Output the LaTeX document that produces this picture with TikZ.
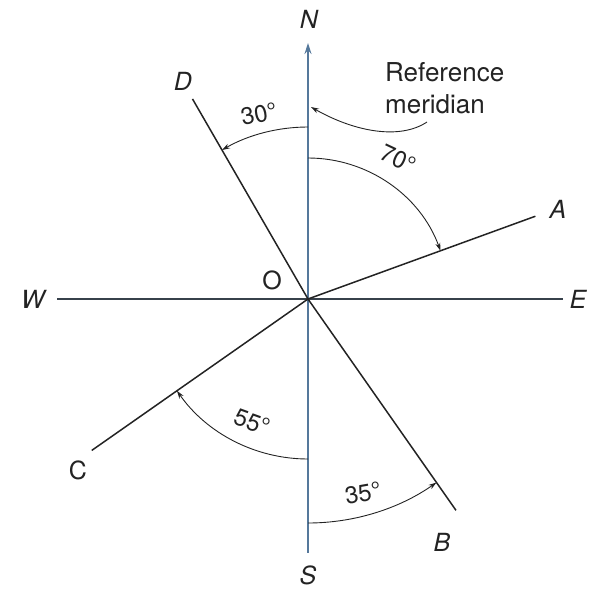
\documentclass[tikz,border=0pt]{standalone}
\usepackage{fontspec}
\setmainfont{TeX Gyre Heros}
\usetikzlibrary{calc,arrows.meta}
\definecolor{nsblue}{RGB}{85,120,155}
\definecolor{weslate}{RGB}{55,65,75}
\definecolor{ink}{RGB}{35,35,35}
\tikzset{
  axisns/.style={line width=1.5pt, draw=nsblue},
  axiswe/.style={line width=1.3pt, draw=weslate},
  bearing/.style={line width=1.5pt, draw=ink},
  anglearc/.style={line width=0.9pt, draw=ink, -{Stealth[length=8pt,width=5pt]}},
  lbl/.style={font=\fontsize{25}{29}\selectfont\itshape, text=ink, inner sep=0pt},
  lblup/.style={font=\fontsize{25}{29}\selectfont, text=ink, inner sep=0pt},
  anglbl/.style={font=\fontsize{24}{28}\selectfont, text=ink, inner sep=0pt},
}
\begin{document}
\begin{tikzpicture}[x=1pt,y=1pt]
\useasboundingbox (0,0) rectangle (602,590);
\coordinate (O) at (308,291);
\coordinate (Nend) at ($(O)+(90:256)$);
\coordinate (Send) at ($(O)+(270:254)$);
\coordinate (Wend) at ($(O)+(180:251)$);
\coordinate (Eend) at ($(O)+(0:255)$);
\coordinate (Aend) at ($(O)+(20:242)$);
\coordinate (Dend) at ($(O)+(120:231)$);
\coordinate (Cend) at ($(O)+(215:264)$);
\coordinate (Bend) at ($(O)+(305:258)$);
% axes
\draw[axiswe] (O) -- (Wend);
\draw[axiswe] (O) -- (Eend);
\draw[axisns] (O) -- (Send);
\draw[axisns, -{Stealth[length=11pt,width=7pt]}] (O) -- (Nend);
% bearing lines
\draw[bearing] (O) -- (Aend);
\draw[bearing] (O) -- (Dend);
\draw[bearing] (O) -- (Cend);
\draw[bearing] (O) -- (Bend);
% angle arcs
\draw[anglearc] ($(O)+(90:172)$) arc[start angle=90, end angle=120, radius=172pt];
\draw[anglearc] ($(O)+(90:141)$) arc[start angle=90, end angle=20, radius=141pt];
\draw[anglearc] ($(O)+(270:160)$) arc[start angle=270, end angle=215, radius=160pt];
\draw[anglearc] ($(O)+(270:224)$) arc[start angle=270, end angle=305, radius=224pt];
% labels
\node[lbl] (N) at (309,571) {N};
\node[lbl] (S) at (308,15) {S};
\node[lbl] (W) at (33,291) {W};
\node[lbl] (E) at (578,291) {E};
\node[lbl] (A) at (558,381) {A};
\node[lbl] (D) at (183,509) {D};
\node[lblup] (C) at (78,120) {C};
\node[lbl] (B) at (442,48) {B};
\node[lblup] (Olbl) at (272,310) {O};
\node[anglbl, rotate=12] (a30) at (259,476) {30°};
\node[anglbl, rotate=-25] (a70) at (398,431) {70°};
\node[anglbl, rotate=-20] (a55) at (252,168) {55°};
\node[anglbl, rotate=10] (a35) at (363,97) {35°};
% reference meridian
\node[lblup, font=\fontsize{26}{32}\selectfont, align=left, anchor=west] (ref) at (385,502) {Reference\\meridian};
\coordinate (refstart) at (427,468);
\coordinate (refend) at (311,483);
\draw[line width=0.9pt, draw=ink, -{Stealth[length=8pt,width=5pt]}] (refstart) .. controls (400,450) and (355,458) .. (refend);
\end{tikzpicture}
\end{document}
